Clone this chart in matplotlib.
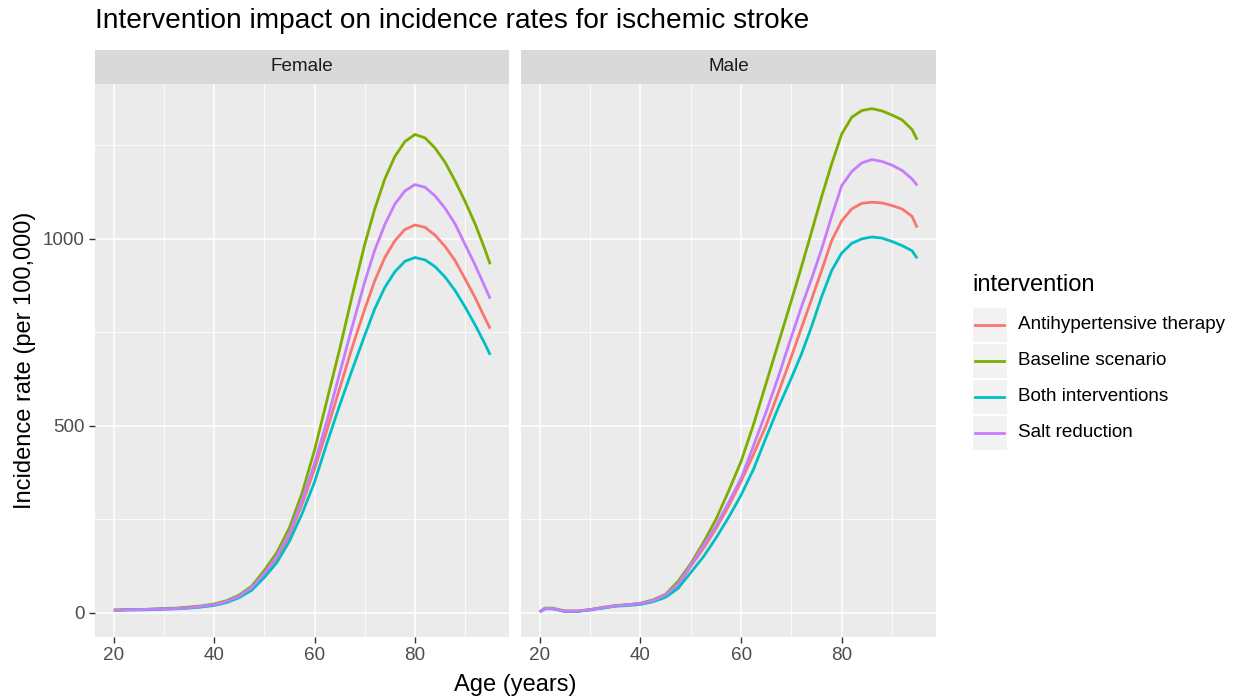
import matplotlib
matplotlib.use("Agg")
import matplotlib.pyplot as plt
from matplotlib.patches import Rectangle
from matplotlib.lines import Line2D

plt.rcParams['font.family'] = ['Liberation Sans', 'DejaVu Sans']

# ---------------- data ----------------
ages = [20, 21, 22.5, 25, 27.5, 30, 32.5, 35, 37.5, 40, 42.5, 45, 47.5, 50, 52.5, 55,
        57.5, 60, 62.5, 65, 67.5, 70, 72, 74, 76, 78, 80, 82, 84, 86, 88, 90, 92, 94, 95]

interventions = ["Antihypertensive therapy", "Baseline scenario", "Both interventions", "Salt reduction"]
colors = ["#F8766D", "#7CAE00", "#00BFC4", "#C77CFF"]
facets = ["Female", "Male"]

female_antihyp = [8, 8, 9, 9, 10, 11, 12, 14, 17, 22, 30, 44, 66, 104, 147, 207, 290, 385,
                  490, 600, 710, 812, 888, 950, 995, 1025, 1037, 1031, 1010, 980, 942, 893,
                  843, 787, 760]
female_baseline = [8, 8, 9, 9, 10, 12, 13, 16, 19, 24, 33, 48, 72, 114, 162, 228, 320, 435,
                   570, 705, 848, 985, 1080, 1160, 1220, 1260, 1279, 1270, 1243, 1205, 1155,
                   1100, 1040, 970, 932]
female_both = [7, 7, 8, 8, 9, 10, 11, 13, 16, 20, 28, 41, 61, 95, 135, 192, 265, 350,
               455, 555, 650, 742, 813, 870, 912, 940, 950, 944, 926, 898, 862, 818,
               770, 718, 690]
female_salt = [7, 7, 8, 9, 10, 11, 12, 14, 18, 22, 31, 45, 68, 106, 152, 214, 300, 400,
               515, 640, 765, 885, 970, 1038, 1093, 1128, 1145, 1138, 1115, 1082, 1040, 985,
               930, 870, 840]

male_antihyp = [3, 12, 12, 5, 5, 9, 14, 19, 22, 25, 33, 47, 73, 125, 172, 225, 285, 352,
                425, 502, 592, 685, 762, 838, 915, 995, 1048, 1080, 1095, 1098, 1096, 1089,
                1080, 1060, 1030]
male_baseline = [3, 13, 13, 5, 5, 9, 15, 20, 22, 26, 35, 50, 85, 132, 188, 250, 325, 405,
                 505, 615, 725, 835, 925, 1018, 1112, 1200, 1280, 1325, 1343, 1348, 1342,
                 1331, 1318, 1292, 1265]
male_both = [3, 11, 11, 4, 4, 8, 13, 18, 20, 23, 30, 42, 66, 108, 150, 200, 255, 315,
             385, 470, 552, 628, 692, 765, 845, 915, 962, 988, 1000, 1005, 1002, 993,
             982, 968, 948]
male_salt = [3, 12, 12, 5, 5, 9, 14, 19, 22, 25, 33, 48, 78, 128, 180, 232, 295, 360,
             448, 538, 635, 738, 818, 893, 972, 1060, 1142, 1180, 1203, 1212, 1207, 1197,
             1183, 1160, 1143]

series = {
    "Female": [female_antihyp, female_baseline, female_both, female_salt],
    "Male": [male_antihyp, male_baseline, male_both, male_salt],
}

x_major = [20, 40, 60, 80]
x_minor = [30, 50, 70, 90]
y_major = [0, 500, 1000]
y_minor = [250, 750, 1250]

title = "Intervention impact on incidence rates for ischemic stroke"
xlabel = "Age (years)"
ylabel = "Incidence rate (per 100,000)"
legend_title = "intervention"

# ---------------- layout ----------------
W, H = 1233, 698
fig = plt.figure(figsize=(W / 100, H / 100), dpi=100)
fig.patch.set_facecolor("white")


def box(x0, y0, x1, y1):
    return [x0 / W, 1 - y1 / H, (x1 - x0) / W, (y1 - y0) / H]


panel_px = {"Female": (95, 509), "Male": (521, 936)}
ptop, pbot = 83.5, 637
strip_top = 50

axes = []
for i, f in enumerate(facets):
    x0, x1 = panel_px[f]
    ax = fig.add_axes(box(x0, ptop, x1, pbot), sharey=axes[0] if axes else None)
    ax.set_facecolor("#EBEBEB")
    for s in ax.spines.values():
        s.set_visible(False)
    ax.set_xticks(x_major)
    ax.set_xticks(x_minor, minor=True)
    ax.set_yticks(y_major)
    ax.set_yticks(y_minor, minor=True)
    ax.grid(True, which="major", color="white", linewidth=1.1)
    ax.grid(True, which="minor", color="white", linewidth=0.55)
    ax.set_axisbelow(True)
    for data, c in zip(series[f], colors):
        ax.plot(ages, data, color=c, linewidth=2.0, solid_capstyle="butt",
                solid_joinstyle="round")
    ax.margins(x=0.05, y=0.05)
    ax.tick_params(which="major", length=4.2, width=1.0, color="#333333",
                   labelcolor="#4D4D4D", labelsize=13.6, pad=3.0)
    ax.tick_params(which="minor", length=0)
    if i > 0:
        ax.tick_params(axis="y", which="both", left=False, labelleft=False)
    # strip
    sax = fig.add_axes(box(x0, strip_top, x1, ptop))
    sax.set_facecolor("#D9D9D9")
    sax.set_xticks([])
    sax.set_yticks([])
    for s in sax.spines.values():
        s.set_visible(False)
    sax.text(0.5, 0.5, f, ha="center", va="center", fontsize=13.6,
             color="#1A1A1A", transform=sax.transAxes)
    axes.append(ax)

# titles
fig.text(95 / W, 1 - 21 / H, title, ha="left", va="center", fontsize=20.2, color="black")
fig.text(515 / W, 1 - 685 / H, xlabel, ha="center", va="center", fontsize=17, color="black")
fig.text(25 / W, 1 - 360 / H, ylabel, ha="center", va="center", fontsize=17,
         rotation=90, color="black")

# legend
fig.text(972 / W, 1 - 285 / H, legend_title, ha="left", va="center", fontsize=17, color="black")
key_tops = [307.5, 343.5, 379.5, 415.5]
for lab, c, kt in zip(interventions, colors, key_tops):
    fig.patches.append(Rectangle((972.5 / W, 1 - (kt + 34.5) / H), 34.5 / W, 34.5 / H,
                                 transform=fig.transFigure, facecolor="#F2F2F2",
                                 edgecolor="none"))
    yc = 1 - (kt + 17.25) / H
    fig.lines.append(Line2D([975 / W, 1004 / W], [yc, yc], transform=fig.transFigure,
                            color=c, linewidth=2.0))
    fig.text(1018.5 / W, yc, lab, ha="left", va="center", fontsize=13.6, color="black")

fig.savefig("out.png", dpi=100, facecolor="white")
